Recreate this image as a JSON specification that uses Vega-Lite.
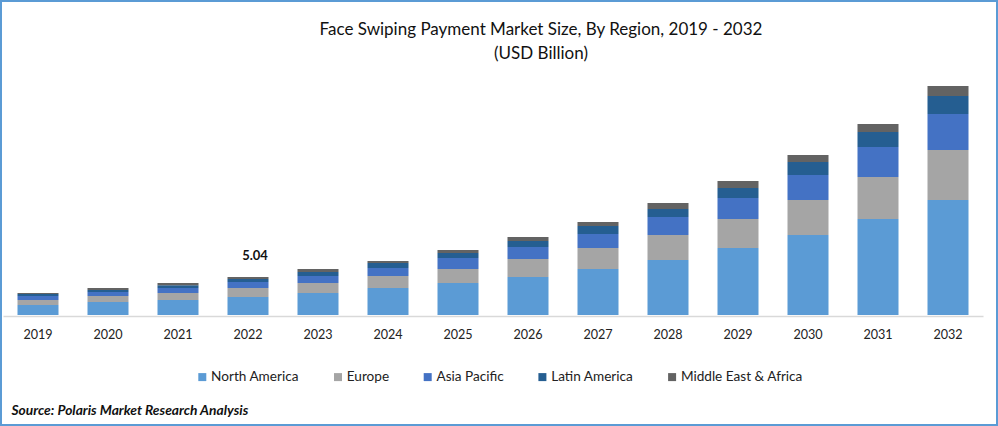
{"$schema":"https://vega.github.io/schema/vega-lite/v6.json","width":998,"height":426,"padding":0,"autosize":{"type":"fit","contains":"padding"},"background":"#ffffff","config":{"view":{"stroke":"#5b9bd5","strokeWidth":4},"font":"Lato"},"title":{"text":["Face Swiping Payment Market Size, By Region, 2019 - 2032","(USD Billion)"],"font":"Lato","fontSize":17,"fontWeight":"normal","color":"#111111","anchor":"middle","offset":-63,"dx":42,"lineHeight":24},"layer":[{"data":{"values":[{"year":"2019","region":"North America","rank":1,"value":1.33},{"year":"2019","region":"Europe","rank":2,"value":0.66},{"year":"2019","region":"Asia Pacific","rank":3,"value":0.53},{"year":"2019","region":"Latin America","rank":4,"value":0.27},{"year":"2019","region":"Middle East & Africa","rank":5,"value":0.13},{"year":"2020","region":"North America","rank":1,"value":1.72},{"year":"2020","region":"Europe","rank":2,"value":0.8},{"year":"2020","region":"Asia Pacific","rank":3,"value":0.53},{"year":"2020","region":"Latin America","rank":4,"value":0.27},{"year":"2020","region":"Middle East & Africa","rank":5,"value":0.27},{"year":"2021","region":"North America","rank":1,"value":1.99},{"year":"2021","region":"Europe","rank":2,"value":0.93},{"year":"2021","region":"Asia Pacific","rank":3,"value":0.66},{"year":"2021","region":"Latin America","rank":4,"value":0.38},{"year":"2021","region":"Middle East & Africa","rank":5,"value":0.28},{"year":"2022","region":"North America","rank":1,"value":2.39},{"year":"2022","region":"Europe","rank":2,"value":1.19},{"year":"2022","region":"Asia Pacific","rank":3,"value":0.8},{"year":"2022","region":"Latin America","rank":4,"value":0.4},{"year":"2022","region":"Middle East & Africa","rank":5,"value":0.26},{"year":"2023","region":"North America","rank":1,"value":2.92},{"year":"2023","region":"Europe","rank":2,"value":1.33},{"year":"2023","region":"Asia Pacific","rank":3,"value":0.93},{"year":"2023","region":"Latin America","rank":4,"value":0.53},{"year":"2023","region":"Middle East & Africa","rank":5,"value":0.4},{"year":"2024","region":"North America","rank":1,"value":3.58},{"year":"2024","region":"Europe","rank":2,"value":1.59},{"year":"2024","region":"Asia Pacific","rank":3,"value":1.06},{"year":"2024","region":"Latin America","rank":4,"value":0.66},{"year":"2024","region":"Middle East & Africa","rank":5,"value":0.27},{"year":"2025","region":"North America","rank":1,"value":4.24},{"year":"2025","region":"Europe","rank":2,"value":1.86},{"year":"2025","region":"Asia Pacific","rank":3,"value":1.46},{"year":"2025","region":"Latin America","rank":4,"value":0.66},{"year":"2025","region":"Middle East & Africa","rank":5,"value":0.4},{"year":"2026","region":"North America","rank":1,"value":5.04},{"year":"2026","region":"Europe","rank":2,"value":2.39},{"year":"2026","region":"Asia Pacific","rank":3,"value":1.59},{"year":"2026","region":"Latin America","rank":4,"value":0.8},{"year":"2026","region":"Middle East & Africa","rank":5,"value":0.53},{"year":"2027","region":"North America","rank":1,"value":6.1},{"year":"2027","region":"Europe","rank":2,"value":2.79},{"year":"2027","region":"Asia Pacific","rank":3,"value":1.86},{"year":"2027","region":"Latin America","rank":4,"value":1.06},{"year":"2027","region":"Middle East & Africa","rank":5,"value":0.53},{"year":"2028","region":"North America","rank":1,"value":7.29},{"year":"2028","region":"Europe","rank":2,"value":3.32},{"year":"2028","region":"Asia Pacific","rank":3,"value":2.39},{"year":"2028","region":"Latin America","rank":4,"value":1.06},{"year":"2028","region":"Middle East & Africa","rank":5,"value":0.8},{"year":"2029","region":"North America","rank":1,"value":8.88},{"year":"2029","region":"Europe","rank":2,"value":3.85},{"year":"2029","region":"Asia Pacific","rank":3,"value":2.79},{"year":"2029","region":"Latin America","rank":4,"value":1.33},{"year":"2029","region":"Middle East & Africa","rank":5,"value":0.93},{"year":"2030","region":"North America","rank":1,"value":10.61},{"year":"2030","region":"Europe","rank":2,"value":4.64},{"year":"2030","region":"Asia Pacific","rank":3,"value":3.32},{"year":"2030","region":"Latin America","rank":4,"value":1.72},{"year":"2030","region":"Middle East & Africa","rank":5,"value":0.93},{"year":"2031","region":"North America","rank":1,"value":12.73},{"year":"2031","region":"Europe","rank":2,"value":5.57},{"year":"2031","region":"Asia Pacific","rank":3,"value":3.98},{"year":"2031","region":"Latin America","rank":4,"value":1.99},{"year":"2031","region":"Middle East & Africa","rank":5,"value":1.06},{"year":"2032","region":"North America","rank":1,"value":15.25},{"year":"2032","region":"Europe","rank":2,"value":6.63},{"year":"2032","region":"Asia Pacific","rank":3,"value":4.77},{"year":"2032","region":"Latin America","rank":4,"value":2.39},{"year":"2032","region":"Middle East & Africa","rank":5,"value":1.33}]},"mark":{"type":"bar","size":41},"encoding":{"x":{"field":"year","type":"nominal","scale":{"range":[3,983],"paddingInner":0,"paddingOuter":0},"axis":{"title":"Source: Polaris  Market Research Analysis","titleFont":"Lato","titleFontSize":13.8,"titleFontWeight":"bold","titleFontStyle":"italic","titleColor":"#111111","titleAlign":"left","titleBaseline":"alphabetic","titleX":11,"titleY":98,"labelAngle":0,"labelFont":"Lato","labelFontSize":12.6,"labelColor":"#222222","labelPadding":12,"ticks":false,"grid":false,"domainColor":"#d9d9d9","domainWidth":1.5,"offset":-110}},"y":{"field":"value","type":"quantitative","stack":"zero","scale":{"domain":[0,35],"nice":false,"zero":true,"range":[315,51.1]},"axis":null},"color":{"field":"region","type":"nominal","scale":{"domain":["North America","Europe","Asia Pacific","Latin America","Middle East & Africa"],"range":["#5b9bd5","#a5a5a5","#4472c4","#255e91","#636363"]},"legend":{"title":null,"orient":"none","legendX":195.5,"legendY":370,"direction":"horizontal","columns":5,"symbolType":"square","symbolSize":64,"symbolStrokeWidth":0,"labelFont":"Lato","labelFontSize":13.6,"labelColor":"#222222","labelOffset":2,"columnPadding":31.7}},"order":{"field":"rank","type":"ordinal"}}},{"data":{"values":[{"year":"2022","total":5.04}]},"mark":{"type":"text","font":"Lato","fontSize":13,"fontWeight":"bold","color":"#111111","dx":7,"dy":-21,"baseline":"middle"},"encoding":{"x":{"field":"year","type":"nominal"},"y":{"field":"total","type":"quantitative"},"text":{"field":"total","type":"quantitative","format":".2f"}}}]}
